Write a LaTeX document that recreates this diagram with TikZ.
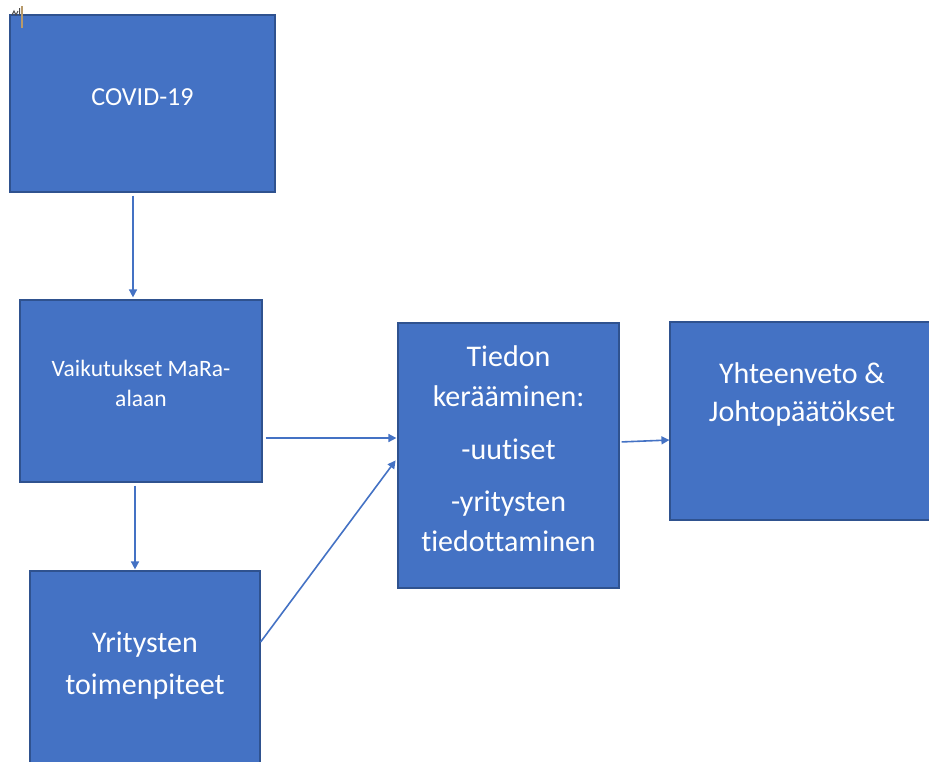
\documentclass[tikz,border=0pt]{standalone}
\usepackage{fontspec}
\setmainfont[Ligatures={NoCommon}]{Carlito}
\usepackage{tikz}
\usepackage{xcolor}
\usetikzlibrary{positioning, arrows.meta}

\definecolor{boxblue}{HTML}{4472C4}
\definecolor{boxedge}{HTML}{2F528F}
\definecolor{cursortan}{HTML}{B89A6A}

\begin{document}
\begin{tikzpicture}[x=0.5pt, y=-0.5pt,
        box/.style={rectangle, draw=boxedge, line width=0.6pt, fill=boxblue, text=white, align=center, inner sep=0pt},
        arr/.style={-{Triangle[width=4pt, length=4pt]}, draw=boxblue, line width=0.8pt}]
                    \useasboundingbox (0, 0) rectangle (929, 761);

                    \node[box, minimum width=132.5pt, minimum height=88.5pt, font=\fontsize{13}{16}\selectfont] (covid) at (142.5, 103.5) {COVID-19\rule[-6.5pt]{0pt}{0pt}};
                    \node[box, minimum width=121pt, minimum height=91pt, font=\fontsize{11.75}{15}\selectfont] (vaik) at (141, 391) {Vaikutukset MaRa-\\alaan\rule[-7.5pt]{0pt}{0pt}};
                    \node[box, minimum width=115pt, minimum height=100pt, font=\fontsize{15}{21}\selectfont] (yrit) at (145, 671) {Yritysten\\toimenpiteet\rule[-8pt]{0pt}{0pt}};
                    \node[box, minimum width=110.5pt, minimum height=132.5pt, font=\fontsize{15}{20}\selectfont] (tiedon) at (508.5, 455.5) {Tiedon\\ker\"a\"aminen:\\[6.5pt]-uutiset\\[6pt]-yritysten\\tiedottaminen\rule[-6.5pt]{0pt}{0pt}};
                    \node[box, minimum width=132pt, minimum height=99pt, font=\fontsize{15}{19}\selectfont] (yht) at (802, 421) {Yhteenveto \&\\Johtop\"a\"at\"okset\rule[-29pt]{0pt}{0pt}};

                    % cursor mark in the corner
                    \draw[cursortan, line width=1pt] (21.5, 6) -- (21.5, 28);
                    \draw[black!70, line width=0.5pt] (12, 15) -- (14, 11) -- (16, 15) -- (18, 11) (19.5, 8) -- (19.5, 15);

                    \draw[arr, shorten <=1.5pt, shorten >=1pt] ([xshift=-4.75pt]covid.south) -- ([xshift=-4pt]vaik.north);
                    \draw[arr, shorten <=1.5pt, shorten >=0.5pt] ([xshift=-3pt]vaik.south) -- ([xshift=-5pt]yrit.north);
                    \draw[arr, shorten <=1.5pt, shorten >=0.5pt] ([yshift=-23.5pt]vaik.east) -- ([yshift=-23.5pt]vaik.east -| tiedon.west);
                    \draw[arr, shorten >=1.5pt] ([yshift=14.5pt]yrit.east) -- ([yshift=-1.25pt]tiedon.west);
                    \draw[arr, shorten <=1pt] ([yshift=6.75pt]tiedon.east) -- ([yshift=-9.5pt]yht.west);
                \end{tikzpicture}
\end{document}
